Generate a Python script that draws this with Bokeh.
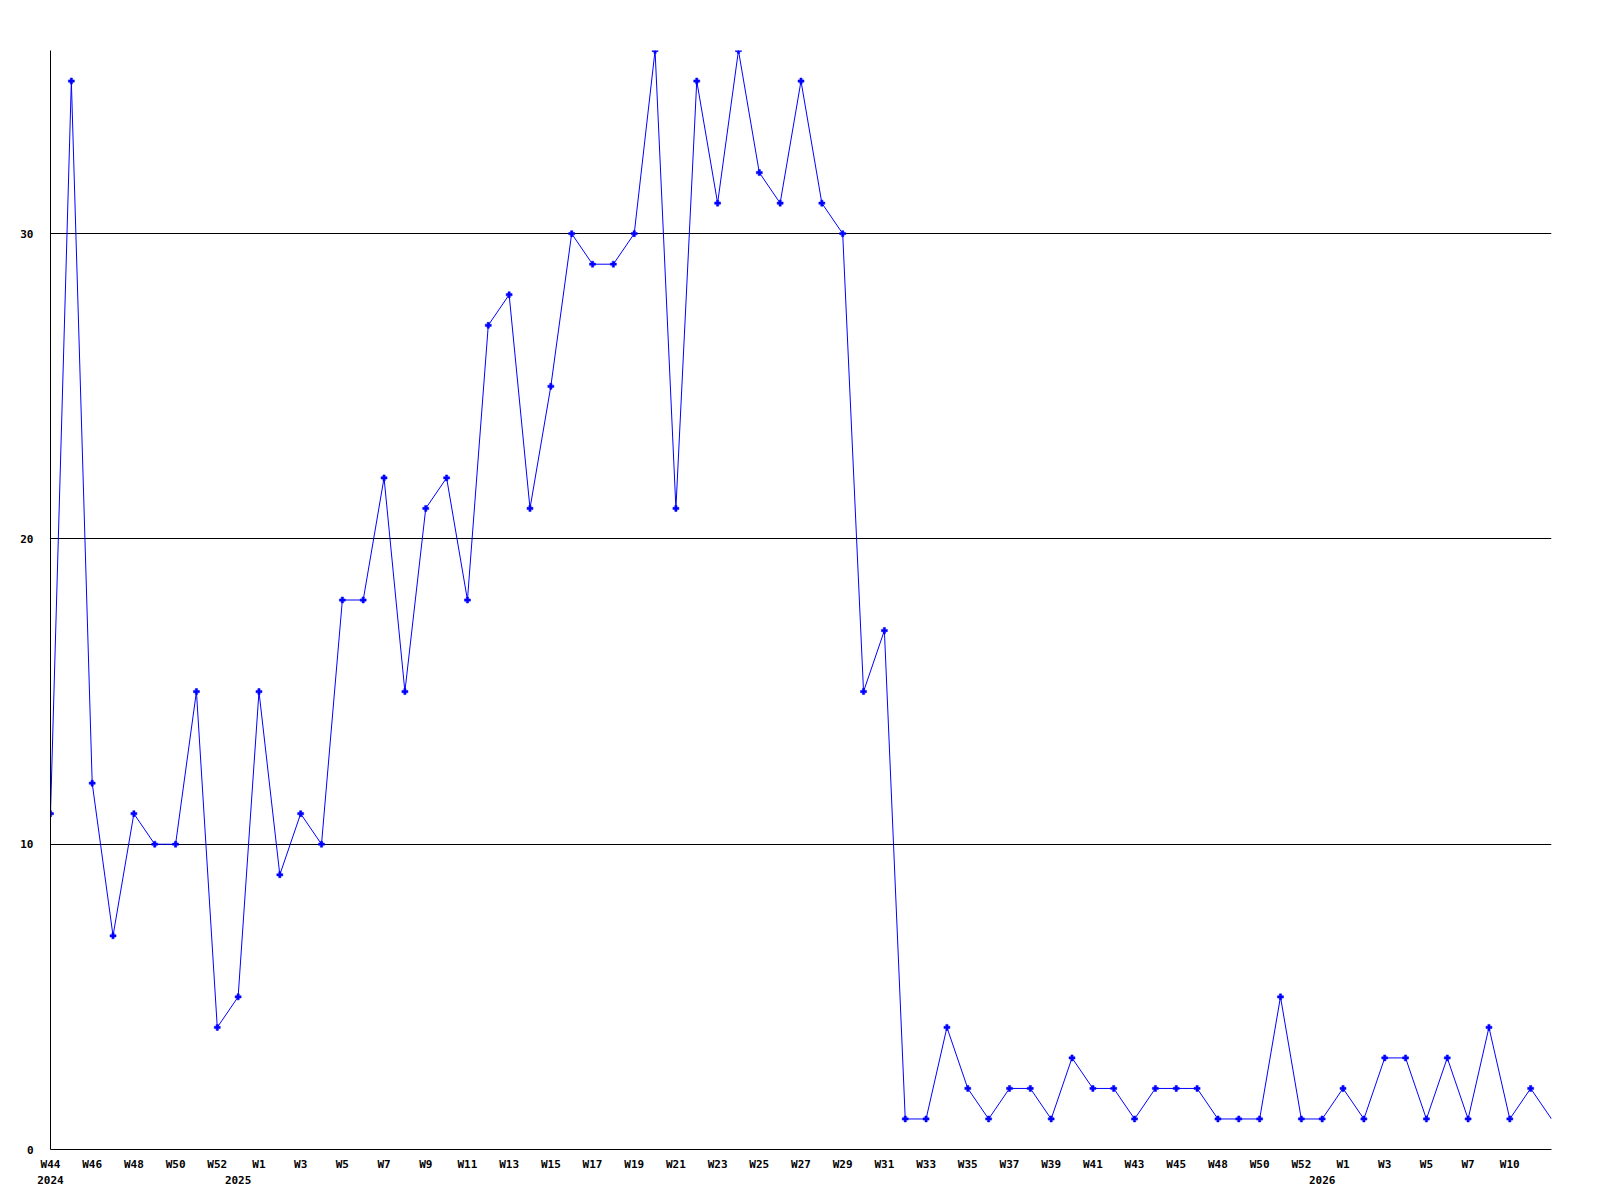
from bokeh.plotting import figure
from bokeh.models import Range1d, FixedTicker, LinearAxis, ColumnDataSource
from bokeh.embed import file_html
from bokeh.resources import INLINE

# Weekly values, W44 2024 .. 2026
values = [11, 35, 12, 7, 11, 10, 10, 15, 4, 5,
          15, 9, 11, 10, 18, 18, 22, 15, 21, 22,
          18, 27, 28, 21, 25, 30, 29, 29, 30, 36,
          21, 35, 31, 36, 32, 31, 35, 31, 30, 15,
          17, 1, 1, 4, 2, 1, 2, 2, 1, 3,
          2, 2, 1, 2, 2, 2, 1, 1, 1, 5,
          1, 1, 2, 1, 3, 3, 1, 3, 1, 4,
          1, 2, 1]

week_tick_pos = [0, 2, 4, 6, 8, 10, 12, 14, 16, 18, 20, 22, 24, 26, 28, 30, 32, 34,
                 36, 38, 40, 42, 44, 46, 48, 50, 52, 54, 56, 58, 60, 62, 64, 66, 68, 70]
week_tick_labels = ["W44", "W46", "W48", "W50", "W52", "W1", "W3", "W5", "W7", "W9",
                    "W11", "W13", "W15", "W17", "W19", "W21", "W23", "W25", "W27", "W29",
                    "W31", "W33", "W35", "W37", "W39", "W41", "W43", "W45", "W48", "W50",
                    "W52", "W1", "W3", "W5", "W7", "W10"]
year_tick_pos = [0, 9, 61]
year_tick_labels = ["2024", "2025", "2026"]
y_ticks = [0, 10, 20, 30]
y_grid = [10, 20, 30]

FONT = "DejaVu Sans Mono"

x = list(range(len(values)))
src = ColumnDataSource(dict(x=x, y=values))
msrc = ColumnDataSource(dict(x=x[:-1], y=values[:-1]))

p = figure(width=1591, height=1186, output_backend="svg", toolbar_location=None,
           x_range=Range1d(0, len(values) - 1), y_range=Range1d(0, 36),
           min_border_left=50, min_border_top=50, min_border_right=40, min_border_bottom=10,
           x_axis_location=None, y_axis_location=None)
p.outline_line_color = None
p.background_fill_color = "white"
p.border_fill_color = "white"

# y axis
ya = LinearAxis(ticker=FixedTicker(ticks=y_ticks))
ya.axis_line_color = "black"
ya.axis_line_width = 1
ya.major_tick_line_color = None
ya.minor_tick_line_color = None
ya.major_tick_out = 0
ya.major_tick_in = 0
ya.major_label_standoff = 17
ya.major_label_text_font = FONT
ya.major_label_text_font_style = "bold"
ya.major_label_text_font_size = "11px"
ya.major_label_text_color = "black"
p.add_layout(ya, "left")

# x axis: week labels
xa = LinearAxis(ticker=FixedTicker(ticks=week_tick_pos),
                major_label_overrides={pos: lab for pos, lab in zip(week_tick_pos, week_tick_labels)})
xa.axis_line_color = "black"
xa.axis_line_width = 1
xa.major_tick_line_color = None
xa.minor_tick_line_color = None
xa.major_tick_out = 0
xa.major_tick_in = 0
xa.major_label_standoff = 8
xa.major_label_text_font = FONT
xa.major_label_text_font_style = "bold"
xa.major_label_text_font_size = "11px"
xa.major_label_text_color = "black"
p.add_layout(xa, "below")

# x axis: year labels
xa2 = LinearAxis(ticker=FixedTicker(ticks=year_tick_pos),
                 major_label_overrides={pos: lab for pos, lab in zip(year_tick_pos, year_tick_labels)})
xa2.axis_line_color = None
xa2.major_tick_line_color = None
xa2.minor_tick_line_color = None
xa2.major_tick_out = 0
xa2.major_tick_in = 0
xa2.major_label_standoff = 2
xa2.major_label_text_font = FONT
xa2.major_label_text_font_style = "bold"
xa2.major_label_text_font_size = "11px"
xa2.major_label_text_color = "black"
p.add_layout(xa2, "below")

p.xgrid.visible = False
p.ygrid.ticker = FixedTicker(ticks=y_grid)
p.ygrid.grid_line_color = "black"
p.ygrid.grid_line_width = 1
p.ygrid.grid_line_alpha = 1.0

p.line("x", "y", source=src, line_color="#0000ff", line_width=1)
p.scatter("x", "y", source=msrc, marker="plus", size=6, fill_color="#0000ff",
          line_color="#0000ff", line_width=0.5)

open("out.html", "w").write(file_html(p, INLINE))
